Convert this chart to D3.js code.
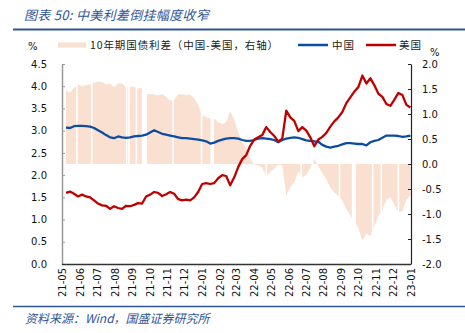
<!DOCTYPE html>
<html><head><meta charset="utf-8">
<script src="https://cdn.jsdelivr.net/npm/d3@7"></script>
<style>body{margin:0;background:#fff}svg{display:block}</style>
</head><body>
<svg id="c" width="465" height="333"></svg>
<script>
// ---- data (weekly observations starting 2021-05-08) ----
const startDate = "2021-05-08";
const china = [3.07,3.06,3.10,3.11,3.11,3.10,3.09,3.06,3.01,2.96,2.90,2.85,2.83,2.87,2.85,2.84,2.85,2.87,2.88,2.89,
  2.91,2.96,3.01,2.97,2.93,2.91,2.89,2.87,2.85,2.83,2.83,2.82,2.81,2.80,2.78,2.76,2.71,2.73,2.77,2.80,
  2.82,2.83,2.83,2.82,2.79,2.77,2.77,2.79,2.82,2.83,2.82,2.81,2.79,2.74,2.79,2.82,2.84,2.85,2.84,2.81,
  2.78,2.77,2.76,2.75,2.68,2.64,2.62,2.64,2.66,2.69,2.72,2.72,2.71,2.70,2.70,2.67,2.74,2.77,2.79,2.84,
  2.89,2.89,2.89,2.88,2.86,2.87,2.89];
const us = [1.60,1.63,1.58,1.52,1.56,1.52,1.50,1.43,1.36,1.32,1.31,1.24,1.30,1.26,1.24,1.31,1.30,1.33,1.37,1.36,
  1.52,1.56,1.62,1.60,1.53,1.57,1.62,1.58,1.46,1.43,1.45,1.43,1.50,1.62,1.80,1.82,1.80,1.82,1.93,2.00,
  1.98,1.77,1.95,2.18,2.36,2.45,2.66,2.80,2.85,2.90,3.08,2.97,2.88,2.76,2.82,3.45,3.30,3.22,2.99,3.08,
  3.00,2.85,2.65,2.80,2.86,2.95,3.09,3.21,3.30,3.42,3.62,3.75,3.88,3.98,4.24,4.06,4.18,4.02,3.83,3.76,
  3.60,3.56,3.70,3.85,3.80,3.58,3.52];
// days with missing spread data (white gaps in the area): first day and number of days
const gapStarts = ["2021-05-27","2021-06-22","2021-08-22","2021-08-26","2021-09-08","2021-09-19","2021-11-11",
  "2021-12-31","2022-01-17","2022-04-23","2022-06-23","2022-07-13","2022-08-29","2022-09-21","2022-10-26",
  "2022-11-10","2022-12-10"];
const gapDays = [1,1,1,1,1,9,1,1,6,1,1,1,1,7,1,1,1];
const monthLabels = ["21-05","21-06","21-07","21-08","21-09","21-10","21-11","21-12","22-01","22-02","22-03",
  "22-04","22-05","22-06","22-07","22-08","22-09","22-10","22-11","22-12","23-01"];
const leftTicks = [0,0.5,1,1.5,2,2.5,3,3.5,4,4.5];
const rightTicks = [-2,-1.5,-1,-0.5,0,0.5,1,1.5,2];
const seriesNames = ["10年期国债利差（中国-美国，右轴）","中国","美国"];
const colors = {area:"#F9E0D1", china:"#0D4DA1", us:"#C00000", title:"#2F5597", gap:"#ffffff"};

// ---- derived ----
const ymd = s => { const p = s.split("-").map(Number); return new Date(p[0], p[1] - 1, p[2]); };
const t0 = ymd(startDate);
const dates = china.map((_, i) => new Date(t0.getFullYear(), t0.getMonth(), t0.getDate() + 7 * i));
const spread = china.map((v, i) => +(v - us[i]).toFixed(2));
const monthDate = s => new Date(2000 + +s.slice(0, 2), +s.slice(3) - 1, 1);

const svg = d3.select("#c");
const x = d3.scaleTime().domain([new Date(2021, 4, 1), new Date(2023, 0, 1)]).range([62, 411]);
const yL = d3.scaleLinear().domain([0, 4.5]).range([264, 64]);
const yR = d3.scaleLinear().domain([-2, 2]).range([264, 64]);

// title
svg.append("text").attr("x", 24).attr("y", 20).attr("fill", colors.title)
  .attr("font-family", "'Noto Sans CJK SC', sans-serif").attr("font-size", 13).attr("font-style", "italic")
  .attr("letter-spacing", 0.3)
  .text("图表 50:  中美利差倒挂幅度收窄");
svg.append("line").attr("x1", 13).attr("x2", 465).attr("y1", 29.5).attr("y2", 29.5)
  .attr("stroke", colors.title).attr("stroke-width", 2);

// spread area with white gaps (gaps drawn before lines/axes, so only the area is cut)
const area = d3.area().x((d, i) => x(dates[i])).y0(yR(0)).y1(d => yR(d));
svg.append("path").attr("d", area(spread)).attr("fill", colors.area);
const gapData = gapStarts.map((s, i) => {
  const a = ymd(s), b = new Date(a.getFullYear(), a.getMonth(), a.getDate() + gapDays[i]);
  return {x0: x(a), x1: x(b)};
});
svg.append("g").selectAll("rect").data(gapData).join("rect")
  .attr("x", d => d.x0 - 0.8)
  .attr("width", d => Math.max(1.6, d.x1 - d.x0))
  .attr("y", yR(2) - 2).attr("height", yR(-2) - yR(2) + 2)
  .attr("fill", colors.gap);

// lines
const line = d3.line().x((d, i) => x(dates[i])).y(d => yL(d)).curve(d3.curveLinear);
svg.append("path").attr("d", line(china)).attr("fill", "none").attr("stroke", colors.china)
  .attr("stroke-width", 2.3).attr("stroke-linejoin", "round");
svg.append("path").attr("d", line(us)).attr("fill", "none").attr("stroke", colors.us)
  .attr("stroke-width", 2.3).attr("stroke-linejoin", "round");

// axes
const fmt = v => v.toFixed(1);
const gl = svg.append("g").attr("transform", "translate(62,0)")
  .call(d3.axisLeft(yL).tickValues(leftTicks).tickFormat(fmt).tickSize(-3).tickSizeOuter(0).tickPadding(15));
gl.select(".domain").attr("stroke", "#999").attr("stroke-width", 1.5);
gl.selectAll(".tick line").attr("stroke", "#999");
const gr = svg.append("g").attr("transform", "translate(411,0)")
  .call(d3.axisRight(yR).tickValues(rightTicks).tickFormat(fmt).tickSize(-3).tickSizeOuter(0).tickPadding(11));
gr.select(".domain").attr("stroke", "#222").attr("stroke-width", 1.2);
gr.selectAll(".tick line").attr("stroke", "#222");
[gl, gr].forEach(g => g.selectAll("text").attr("font-family", "'DejaVu Sans', sans-serif")
  .attr("font-size", 10).attr("fill", "#111"));
svg.append("line").attr("x1", 62).attr("x2", 411).attr("y1", 264.5).attr("y2", 264.5)
  .attr("stroke", "#333").attr("stroke-width", 1.5);
svg.append("g").selectAll("text").data(monthLabels).join("text")
  .attr("transform", d => `translate(${x(monthDate(d)) + 0.5},268) rotate(-90)`)
  .attr("text-anchor", "end").attr("dy", "0.35em")
  .attr("font-family", "'DejaVu Sans', sans-serif").attr("font-size", 10).attr("fill", "#111").text(d => d);

// unit labels
svg.append("text").attr("x", 28).attr("y", 50).attr("font-family", "'DejaVu Sans', sans-serif")
  .attr("font-size", 10).attr("fill", "#111").text("%");
svg.append("text").attr("x", 430).attr("y", 56).attr("font-family", "'DejaVu Sans', sans-serif")
  .attr("font-size", 10).attr("fill", "#111").text("%");

// legend
const lg = svg.append("g").attr("font-family", "'Noto Sans CJK SC', sans-serif").attr("font-size", 10.5).attr("fill", "#222");
lg.append("rect").attr("x", 58).attr("y", 42.5).attr("width", 28).attr("height", 5).attr("fill", colors.area);
lg.append("text").attr("x", 90).attr("y", 49).attr("letter-spacing", 0.9).text(seriesNames[0]);
lg.append("line").attr("x1", 298).attr("x2", 328).attr("y1", 45).attr("y2", 45).attr("stroke", colors.china).attr("stroke-width", 2.5);
lg.append("text").attr("x", 332).attr("y", 49).attr("letter-spacing", 0.9).text(seriesNames[1]);
lg.append("line").attr("x1", 366).attr("x2", 396).attr("y1", 45).attr("y2", 45).attr("stroke", colors.us).attr("stroke-width", 2.5);
lg.append("text").attr("x", 399).attr("y", 49).attr("letter-spacing", 0.9).text(seriesNames[2]);

// source
svg.append("line").attr("x1", 13).attr("x2", 465).attr("y1", 306.5).attr("y2", 306.5)
  .attr("stroke", colors.title).attr("stroke-width", 1.5);
svg.append("text").attr("x", 25).attr("y", 323).attr("fill", colors.title)
  .attr("font-family", "'Noto Sans CJK SC', sans-serif").attr("font-size", 12).attr("font-style", "italic")
  .text("资料来源：Wind，国盛证券研究所");
</script>
</body></html>
